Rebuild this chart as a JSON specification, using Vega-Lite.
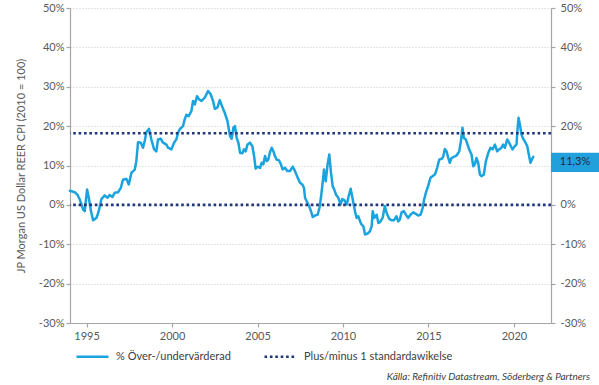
{
  "$schema": "https://vega.github.io/schema/vega-lite/v6.json",
  "width": 481,
  "height": 315,
  "autosize": {"type": "none"},
  "padding": {"left": 70, "top": 8, "right": 48, "bottom": 62},
  "background": "white",
  "config": {
    "font": "Lato",
    "view": {"stroke": null},
    "axis": {"labelFont": "Lato", "labelFontSize": 11, "labelColor": "#595959", "domainColor": "#A6A6A6", "domainWidth": 1.2, "tickColor": "#A6A6A6", "tickSize": 4, "tickWidth": 1.2}
  },
  "title": {"text": "Källa: Refinitiv Datastream, Söderberg & Partners", "orient": "bottom", "anchor": "end", "fontSize": 10, "fontStyle": "italic", "fontWeight": "normal", "color": "#404040", "font": "Lato", "dx": -9, "offset": 10},
  "datasets": {
    "series": [
      {"t":1994.02,"v":3.6,"s":"a"},{"t":1994.31,"v":3.2,"s":"a"},{"t":1994.46,"v":2.6,"s":"a"},{"t":1994.60,"v":1.4,"s":"a"},{"t":1994.80,"v":-1.2,"s":"a"},{"t":1994.89,"v":-1.6,"s":"a"},
      {"t":1995.03,"v":3.9,"s":"a"},{"t":1995.13,"v":1.8,"s":"a"},{"t":1995.24,"v":-1.2,"s":"a"},{"t":1995.38,"v":-3.9,"s":"a"},{"t":1995.58,"v":-3.3,"s":"a"},{"t":1995.71,"v":-1.6,"s":"a"},{"t":1995.87,"v":1.5,"s":"a"},
      {"t":1996.06,"v":2.4,"s":"a"},{"t":1996.22,"v":1.8,"s":"a"},{"t":1996.35,"v":2.5,"s":"a"},{"t":1996.51,"v":2.0,"s":"a"},{"t":1996.65,"v":3.1,"s":"a"},{"t":1996.84,"v":3.2,"s":"a"},
      {"t":1997.00,"v":4.3,"s":"a"},{"t":1997.13,"v":6.4,"s":"a"},{"t":1997.33,"v":6.6,"s":"a"},{"t":1997.47,"v":5.2,"s":"a"},{"t":1997.62,"v":8.1,"s":"a"},{"t":1997.82,"v":9.0,"s":"a"},{"t":1997.91,"v":11.1,"s":"a"},
      {"t":1998.01,"v":15.9,"s":"a"},{"t":1998.17,"v":15.8,"s":"a"},{"t":1998.30,"v":14.5,"s":"a"},{"t":1998.40,"v":16.2,"s":"a"},{"t":1998.50,"v":18.5,"s":"a"},{"t":1998.65,"v":19.3,"s":"a"},{"t":1998.79,"v":16.6,"s":"a"},{"t":1998.95,"v":14.1,"s":"a"},
      {"t":1999.08,"v":13.6,"s":"a"},{"t":1999.18,"v":16.6,"s":"a"},{"t":1999.34,"v":16.8,"s":"a"},{"t":1999.47,"v":15.8,"s":"a"},{"t":1999.67,"v":15.3,"s":"a"},{"t":1999.77,"v":14.5,"s":"a"},{"t":1999.96,"v":14.1,"s":"a"},
      {"t":2000.12,"v":15.8,"s":"a"},{"t":2000.25,"v":16.6,"s":"a"},{"t":2000.35,"v":18.3,"s":"a"},{"t":2000.45,"v":19.2,"s":"a"},{"t":2000.64,"v":20.0,"s":"a"},{"t":2000.74,"v":21.7,"s":"a"},{"t":2000.84,"v":22.9,"s":"a"},{"t":2000.97,"v":22.5,"s":"a"},
      {"t":2001.13,"v":23.8,"s":"a"},{"t":2001.23,"v":26.4,"s":"a"},{"t":2001.33,"v":25.5,"s":"a"},{"t":2001.46,"v":27.6,"s":"a"},{"t":2001.58,"v":26.8,"s":"a"},{"t":2001.72,"v":26.4,"s":"a"},{"t":2001.91,"v":27.2,"s":"a"},
      {"t":2002.11,"v":28.9,"s":"a"},{"t":2002.26,"v":28.1,"s":"a"},{"t":2002.40,"v":26.4,"s":"a"},{"t":2002.50,"v":24.4,"s":"a"},{"t":2002.65,"v":24.7,"s":"a"},{"t":2002.79,"v":26.6,"s":"a"},{"t":2002.92,"v":25.1,"s":"a"},
      {"t":2003.08,"v":23.4,"s":"a"},{"t":2003.24,"v":21.3,"s":"a"},{"t":2003.39,"v":17.5,"s":"a"},{"t":2003.49,"v":16.8,"s":"a"},{"t":2003.59,"v":19.6,"s":"a"},{"t":2003.68,"v":20.0,"s":"a"},{"t":2003.78,"v":17.0,"s":"a"},{"t":2003.88,"v":15.8,"s":"a"},{"t":2003.98,"v":13.2,"s":"a"},
      {"t":2004.11,"v":13.1,"s":"a"},{"t":2004.21,"v":14.1,"s":"a"},{"t":2004.31,"v":13.6,"s":"a"},{"t":2004.41,"v":15.3,"s":"a"},{"t":2004.56,"v":15.8,"s":"a"},{"t":2004.70,"v":14.9,"s":"a"},{"t":2004.80,"v":12.4,"s":"a"},{"t":2004.89,"v":9.2,"s":"a"},
      {"t":2005.01,"v":9.7,"s":"a"},{"t":2005.15,"v":9.4,"s":"a"},{"t":2005.24,"v":10.7,"s":"a"},{"t":2005.34,"v":10.3,"s":"a"},{"t":2005.44,"v":12.4,"s":"a"},{"t":2005.54,"v":11.1,"s":"a"},{"t":2005.63,"v":11.5,"s":"a"},{"t":2005.73,"v":13.4,"s":"a"},{"t":2005.83,"v":14.5,"s":"a"},{"t":2005.93,"v":13.6,"s":"a"},
      {"t":2006.02,"v":12.4,"s":"a"},{"t":2006.12,"v":11.5,"s":"a"},{"t":2006.26,"v":11.3,"s":"a"},{"t":2006.37,"v":10.3,"s":"a"},{"t":2006.47,"v":9.0,"s":"a"},{"t":2006.61,"v":9.4,"s":"a"},{"t":2006.75,"v":8.6,"s":"a"},{"t":2006.90,"v":8.6,"s":"a"},
      {"t":2007.06,"v":9.7,"s":"a"},{"t":2007.19,"v":8.6,"s":"a"},{"t":2007.35,"v":6.9,"s":"a"},{"t":2007.49,"v":5.6,"s":"a"},{"t":2007.62,"v":5.2,"s":"a"},{"t":2007.72,"v":4.3,"s":"a"},{"t":2007.78,"v":1.8,"s":"a"},{"t":2007.88,"v":0.9,"s":"a"},
      {"t":2008.01,"v":-0.2,"s":"a"},{"t":2008.13,"v":-1.6,"s":"a"},{"t":2008.23,"v":-3.1,"s":"a"},{"t":2008.36,"v":-2.7,"s":"a"},{"t":2008.52,"v":-2.5,"s":"a"},{"t":2008.62,"v":-0.8,"s":"a"},{"t":2008.71,"v":1.8,"s":"a"},{"t":2008.81,"v":5.6,"s":"a"},{"t":2008.89,"v":9.0,"s":"a"},{"t":2008.99,"v":6.0,"s":"a"},
      {"t":2009.10,"v":10.3,"s":"a"},{"t":2009.20,"v":12.8,"s":"a"},{"t":2009.30,"v":8.1,"s":"a"},{"t":2009.40,"v":4.7,"s":"a"},{"t":2009.49,"v":3.9,"s":"a"},{"t":2009.59,"v":2.6,"s":"a"},{"t":2009.73,"v":1.8,"s":"a"},{"t":2009.86,"v":0.1,"s":"a"},{"t":2009.96,"v":1.5,"s":"a"},
      {"t":2010.08,"v":1.2,"s":"a"},{"t":2010.22,"v":0.1,"s":"a"},{"t":2010.31,"v":1.8,"s":"a"},{"t":2010.45,"v":4.1,"s":"a"},{"t":2010.57,"v":1.4,"s":"a"},{"t":2010.70,"v":-1.6,"s":"a"},{"t":2010.80,"v":-3.3,"s":"a"},{"t":2010.90,"v":-2.9,"s":"a"},
      {"t":2011.00,"v":-4.2,"s":"a"},{"t":2011.09,"v":-5.0,"s":"a"},{"t":2011.19,"v":-5.4,"s":"a"},{"t":2011.29,"v":-7.5,"s":"a"},{"t":2011.44,"v":-7.3,"s":"a"},{"t":2011.58,"v":-6.7,"s":"a"},{"t":2011.68,"v":-5.4,"s":"a"},{"t":2011.74,"v":-1.6,"s":"a"},{"t":2011.83,"v":-3.3,"s":"a"},{"t":2011.97,"v":-2.5,"s":"a"},
      {"t":2012.07,"v":-4.6,"s":"a"},{"t":2012.16,"v":-4.4,"s":"a"},{"t":2012.32,"v":-3.3,"s":"a"},{"t":2012.45,"v":-0.3,"s":"a"},{"t":2012.55,"v":-2.0,"s":"a"},{"t":2012.71,"v":-3.6,"s":"a"},{"t":2012.84,"v":-3.9,"s":"a"},{"t":2012.98,"v":-3.9,"s":"a"},
      {"t":2013.13,"v":-2.9,"s":"a"},{"t":2013.23,"v":-4.2,"s":"a"},{"t":2013.33,"v":-3.7,"s":"a"},{"t":2013.43,"v":-1.9,"s":"a"},{"t":2013.56,"v":-1.6,"s":"a"},{"t":2013.68,"v":-2.5,"s":"a"},{"t":2013.82,"v":-3.3,"s":"a"},{"t":2013.95,"v":-2.5,"s":"a"},
      {"t":2014.11,"v":-1.9,"s":"a"},{"t":2014.27,"v":-2.3,"s":"a"},{"t":2014.40,"v":-2.7,"s":"a"},{"t":2014.54,"v":-2.5,"s":"a"},{"t":2014.66,"v":-0.8,"s":"a"},{"t":2014.75,"v":1.4,"s":"a"},{"t":2014.85,"v":3.1,"s":"a"},{"t":2014.99,"v":4.9,"s":"a"},
      {"t":2015.12,"v":6.9,"s":"a"},{"t":2015.24,"v":7.3,"s":"a"},{"t":2015.38,"v":7.7,"s":"a"},{"t":2015.51,"v":9.4,"s":"a"},{"t":2015.63,"v":11.5,"s":"a"},{"t":2015.77,"v":11.7,"s":"a"},{"t":2015.86,"v":12.2,"s":"a"},{"t":2015.96,"v":14.2,"s":"a"},
      {"t":2016.06,"v":13.6,"s":"a"},{"t":2016.16,"v":11.9,"s":"a"},{"t":2016.25,"v":10.7,"s":"a"},{"t":2016.35,"v":11.9,"s":"a"},{"t":2016.49,"v":12.2,"s":"a"},{"t":2016.64,"v":12.5,"s":"a"},{"t":2016.80,"v":13.6,"s":"a"},{"t":2016.90,"v":16.2,"s":"a"},{"t":2016.99,"v":19.6,"s":"a"},
      {"t":2017.07,"v":17.0,"s":"a"},{"t":2017.19,"v":16.6,"s":"a"},{"t":2017.29,"v":15.3,"s":"a"},{"t":2017.38,"v":14.1,"s":"a"},{"t":2017.52,"v":12.8,"s":"a"},{"t":2017.62,"v":9.8,"s":"a"},{"t":2017.72,"v":10.3,"s":"a"},{"t":2017.81,"v":11.9,"s":"a"},{"t":2017.91,"v":10.7,"s":"a"},
      {"t":2018.01,"v":7.7,"s":"a"},{"t":2018.11,"v":7.3,"s":"a"},{"t":2018.24,"v":7.7,"s":"a"},{"t":2018.36,"v":11.1,"s":"a"},{"t":2018.50,"v":13.2,"s":"a"},{"t":2018.63,"v":14.5,"s":"a"},{"t":2018.75,"v":14.1,"s":"a"},{"t":2018.89,"v":15.3,"s":"a"},
      {"t":2019.02,"v":13.6,"s":"a"},{"t":2019.14,"v":14.1,"s":"a"},{"t":2019.27,"v":14.5,"s":"a"},{"t":2019.37,"v":15.3,"s":"a"},{"t":2019.47,"v":14.5,"s":"a"},{"t":2019.61,"v":16.6,"s":"a"},{"t":2019.72,"v":15.8,"s":"a"},{"t":2019.82,"v":14.9,"s":"a"},{"t":2019.92,"v":14.1,"s":"a"},
      {"t":2020.05,"v":14.9,"s":"a"},{"t":2020.15,"v":15.3,"s":"a"},{"t":2020.21,"v":19.2,"s":"a"},{"t":2020.27,"v":22.1,"s":"a"},{"t":2020.35,"v":20.4,"s":"a"},{"t":2020.44,"v":17.9,"s":"a"},{"t":2020.54,"v":16.8,"s":"a"},{"t":2020.68,"v":15.8,"s":"a"},{"t":2020.78,"v":14.9,"s":"a"},{"t":2020.89,"v":12.4,"s":"a"},{"t":2020.97,"v":10.7,"s":"a"},
      {"t":2021.05,"v":11.5,"s":"a"},{"t":2021.13,"v":12.2,"s":"a"}
    ],
    "bands": [{"v": 0, "s": "b"}, {"v": 18.2, "s": "b"}],
    "last": [{"v": 11.3, "label": "11,3%"}]
  },
  "layer": [
    {
      "data": {"name": "series"},
      "mark": {"type": "line", "strokeWidth": 2.5, "strokeJoin": "round", "strokeCap": "round"},
      "encoding": {
        "x": {"field": "t", "type": "quantitative", "scale": {"domain": [1994.03, 2022.17], "nice": false, "zero": false},
              "axis": {"values": [1995, 2000, 2005, 2010, 2015, 2020], "format": "d", "title": null, "grid": false, "labelPadding": 3}},
        "y": {"field": "v", "type": "quantitative", "scale": {"domain": [-30, 50], "nice": false, "zero": false},
              "axis": {"values": [-30, -20, -10, 0, 10, 20, 30, 40, 50], "labelExpr": "datum.value + '%'", "title": "JP Morgan US Dollar REER CPI (2010 = 100)", "titleFontSize": 11, "titleFontWeight": "normal", "titleColor": "#595959", "titleFont": "Lato", "titlePadding": 12, "grid": true, "gridColor": "#C8C8C8", "gridDash": [1, 2], "gridWidth": 1, "labelPadding": 2}},
        "color": {"field": "s", "type": "nominal", "scale": {"domain": ["a", "b"], "range": ["#1AA3DE", "#1F3677"]},
                  "legend": {"title": null, "orient": "none", "legendX": 5, "legendY": 331, "direction": "horizontal", "symbolType": "stroke", "symbolSize": 1024, "symbolStrokeWidth": 2.5, "labelFontSize": 11, "labelColor": "#404040", "labelFont": "Lato", "labelOffset": 6, "columnPadding": 28, "labelExpr": "datum.label == 'a' ? '% Över-/undervärderad' : 'Plus/minus 1 standardawikelse'"}},
        "strokeDash": {"field": "s", "type": "nominal", "scale": {"domain": ["a", "b"], "range": [[1, 0], [2.6, 2.8]]},
                  "legend": {"title": null, "orient": "none", "legendX": 5, "legendY": 331, "direction": "horizontal", "symbolType": "stroke", "symbolSize": 1024, "symbolStrokeWidth": 2.5, "labelFontSize": 11, "labelColor": "#404040", "labelFont": "Lato", "labelOffset": 6, "columnPadding": 28, "labelExpr": "datum.label == 'a' ? '% Över-/undervärderad' : 'Plus/minus 1 standardawikelse'"}}
      }
    },
    {
      "data": {"name": "bands"},
      "mark": {"type": "rule", "strokeWidth": 2.6},
      "encoding": {
        "y": {"field": "v", "type": "quantitative",
              "axis": {"orient": "right", "values": [-30, -20, -10, 0, 20, 30, 40, 50], "labelExpr": "datum.value + '%'", "title": null, "grid": false, "labelPadding": 5}},
        "color": {"field": "s", "type": "nominal"},
        "strokeDash": {"field": "s", "type": "nominal"}
      }
    },
    {
      "data": {"name": "last"},
      "mark": {"type": "point", "shape": "M-1,-0.4H1V0.4H-1Z", "size": 2304, "filled": true, "opacity": 1, "color": "#22A0DC", "xOffset": 24, "yOffset": 2},
      "encoding": {
        "x": {"datum": 2022.17, "type": "quantitative"},
        "y": {"field": "v", "type": "quantitative", "axis": null}
      }
    },
    {
      "data": {"name": "last"},
      "mark": {"type": "text", "xOffset": 24, "yOffset": 2, "fontSize": 11, "color": "#1F2A44", "font": "Lato"},
      "encoding": {
        "x": {"datum": 2022.17, "type": "quantitative"},
        "y": {"field": "v", "type": "quantitative", "axis": null},
        "text": {"field": "label"}
      }
    }
  ],
  "resolve": {"axis": {"y": "independent"}}
}
